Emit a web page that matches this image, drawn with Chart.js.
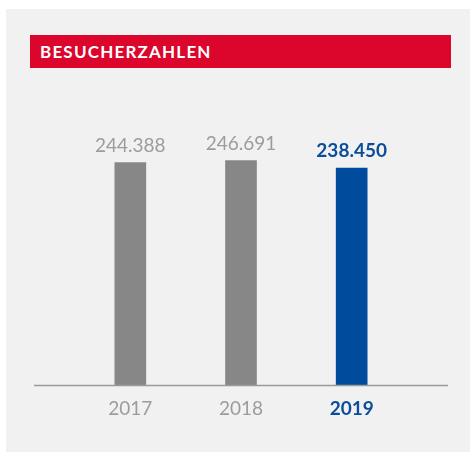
<!DOCTYPE html>
<html>
<head>
<meta charset="utf-8">
<script src="https://cdn.jsdelivr.net/npm/chart.js@4"></script>
<style>
  body { margin: 0; background: #fff; width: 470px; height: 452px; overflow: hidden; font-family: Lato, sans-serif; }
  #panel { position: absolute; left: 6px; top: 9px; width: 464px; height: 443px; background: #f1f1f1; }
  #header { position: absolute; left: 30px; top: 35px; width: 411px; height: 33px; padding-left: 10px;
            background: #dc052c; color: #fff; font: bold 17px Lato, sans-serif; line-height: 34px; letter-spacing: 1.2px; }
  #wrap { position: absolute; left: 0; top: 0; width: 470px; height: 452px; }
</style>
</head>
<body>
<div id="panel"></div>
<div id="header">BESUCHERZAHLEN</div>
<div id="wrap"><canvas id="besucher"></canvas></div>
<script>
const years = ['2017', '2018', '2019'];
const visitors = [244388, 246691, 238450];
const valueLabels = ['244.388', '246.691', '238.450'];
const barColors = ['#878787', '#878787', '#004b9b'];
const textColors = ['#9c9c9c', '#9c9c9c', '#0b4d9a'];

// value labels above bars + baseline that runs wider than the bars
const extras = {
  id: 'extras',
  afterDatasetsDraw(chart) {
    const ctx = chart.ctx;
    const area = chart.chartArea;
    ctx.save();
    ctx.strokeStyle = '#9a9a9a';
    ctx.lineWidth = 1.5;
    ctx.beginPath();
    ctx.moveTo(area.left - 41, area.bottom + 0.5);
    ctx.lineTo(area.right + 41, area.bottom + 0.5);
    ctx.stroke();

    chart.getDatasetMeta(0).data.forEach((bar, i) => {
      ctx.font = (i === 2 ? 'bold 19px' : '19px') + ' Lato, sans-serif';
      ctx.fillStyle = textColors[i];
      ctx.textAlign = 'center';
      ctx.textBaseline = 'alphabetic';
      ctx.fillText(valueLabels[i], bar.x, bar.y - 11);
    });
    ctx.restore();
  }
};

new Chart(document.getElementById('besucher'), {
  type: 'bar',
  data: {
    labels: years,
    datasets: [{
      data: visitors,
      backgroundColor: barColors,
      barThickness: 31
    }]
  },
  options: {
    responsive: true,
    maintainAspectRatio: false,
    animation: false,
    layout: { padding: { left: 75, right: 63, top: 112, bottom: 27 } },
    plugins: { legend: { display: false }, tooltip: { enabled: false } },
    scales: {
      x: {
        grid: { display: false, drawTicks: false },
        border: { display: false },
        afterFit(scale) { scale.height = 40; },
        ticks: {
          padding: 12,
          color: ctx => textColors[ctx.index],
          font: ctx => ctx.index === 2
            ? { family: 'Lato', size: 19, weight: 'bold' }
            : { family: 'Lato', size: 19, weight: 'normal' }
        }
      },
      y: {
        display: false,
        min: 0,
        max: 300000
      }
    }
  },
  plugins: [extras]
});
</script>
</body>
</html>
